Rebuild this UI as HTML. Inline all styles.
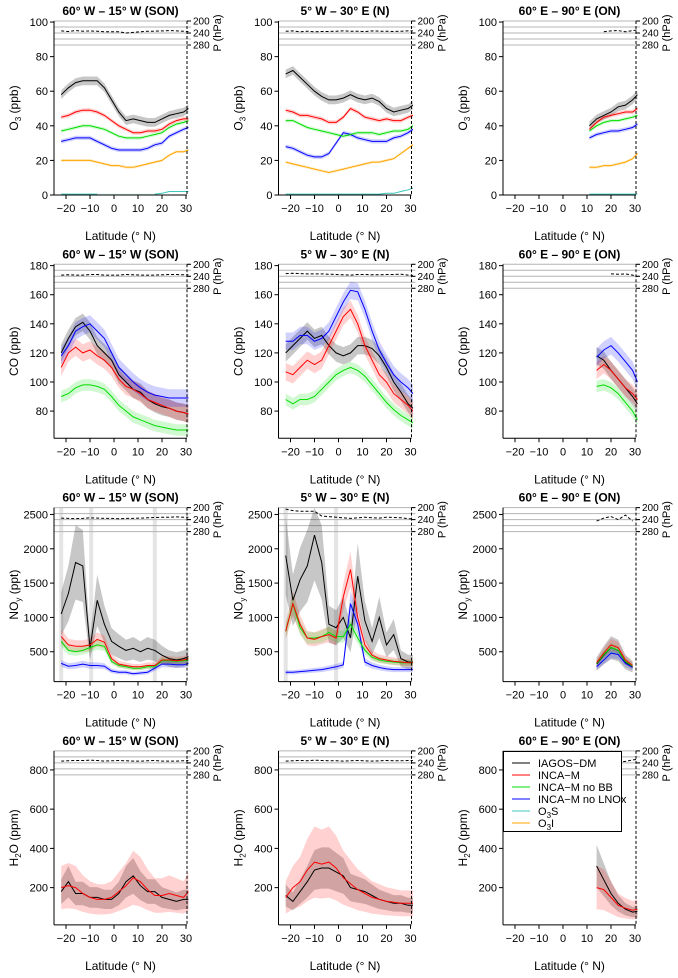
<!DOCTYPE html>
<html><head><meta charset="utf-8"><style>
body{margin:0;background:#fff;}
svg{display:block;font-family:"Liberation Sans",Arial,sans-serif;}
</style></head><body>
<svg id="c" width="678" height="978" viewBox="0 0 678 978"></svg>
<script>
// ---- data ----
const latsFull = [-22,-19,-16,-13,-10,-7,-4,-1,2,5,8,11,14,17,20,23,26,29,31];
const latsEast = [11,14,17,20,23,26,29,31];
const titles = ["60° W – 15° W (SON)","5° W – 30° E (N)","60° E – 90° E (ON)"];
const o3Ticks = [0,20,40,60,80,100];
const coTicks = [80,100,120,140,160,180];
const noyTicks = [500,1000,1500,2000,2500];
const h2oTicks = [200,400,600,800];
const latTicks = [-20,-10,0,10,20,30];
const pTicks = [200,240,280];

// O3 panels
const o3W_black=[58,62,65,66,66,66,62,55,48,43,44,43,42,42,44,46,47,48,50];
const o3W_red=[45,46,48,49,49,48,46,43,40,38,36,36,37,37,38,41,43,44,44];
const o3W_green=[37,38,39,40,40,39,38,36,34,33,33,33,34,35,36,39,41,42,43];
const o3W_blue=[31,32,33,33,33,31,29,27,26,26,26,26,27,29,30,34,36,38,39];
const o3W_orange=[20,20,20,20,20,19,18,17,17,16,16,17,18,19,20,23,25,25,26];
const o3W_cyan=[0.5,0.5,0.5,0.5,0.5,0.5,null,null,null,null,null,null,null,0.5,1,2,2,2,2];
const o3W_p=[233,235,232,234,233,234,236,236,236,240,238,236,234,234,233,232,233,234,235];

const o3N_black=[70,72,68,64,60,57,55,55,56,58,56,55,56,54,50,48,49,50,52];
const o3N_red=[49,48,46,46,45,44,42,42,45,50,48,45,44,43,44,43,43,45,46];
const o3N_green=[43,43,41,39,38,37,36,35,34,35,36,36,36,35,36,37,37,38,40];
const o3N_blue=[28,27,25,23,22,22,24,30,36,35,33,32,31,31,31,33,34,36,38];
const o3N_orange=[19,18,17,16,15,14,13,14,15,16,17,18,19,19,20,21,24,27,29];
const o3N_cyan=[0.5,0.5,0.5,0.5,0.5,0.5,0.5,0.5,0.5,0.5,0.5,0.5,0.5,0.5,1,1,2,3,4];
const o3N_p=[234,233,236,234,236,235,235,234,233,234,234,235,233,234,234,235,234,233,233];

const o3E_black=[40,44,46,48,51,52,55,58];
const o3E_red=[38,42,45,46,47,48,48,50];
const o3E_green=[37,40,42,43,43,44,45,46];
const o3E_blue=[33,35,36,37,37,38,39,41];
const o3E_orange=[16,16,17,17,18,19,21,24];
const o3E_cyan=[0.5,0.5,0.5,0.5,0.5,0.5,0.5,0.5];
const o3E_p=[null,null,236,233,232,236,232,230];

// CO panels
const coW_black=[120,130,138,141,135,125,120,115,105,100,95,93,88,85,83,82,80,79,78];
const coW_red=[110,120,124,120,122,118,115,110,102,97,95,92,88,86,84,82,80,79,78];
const coW_green=[90,92,96,98,98,97,95,90,84,80,76,74,72,70,69,68,67,67,67];
const coW_blue=[118,125,135,138,140,135,130,120,110,105,100,96,93,91,90,89,89,89,89];
const coW_p=[236,235,236,236,234,234,236,236,236,234,235,236,236,236,235,234,234,235,235];

const coN_black=[120,125,130,135,130,132,125,120,118,120,125,125,123,118,110,100,93,85,82];
const coN_red=[107,105,110,115,112,115,125,135,145,150,140,125,115,105,100,92,88,84,80];
const coN_green=[88,85,88,88,90,95,100,105,108,110,108,104,98,92,86,81,77,74,72];
const coN_blue=[128,128,132,132,128,130,135,145,155,163,162,150,135,122,113,105,100,96,92];
const coN_p=[231,230,231,232,232,232,233,234,235,236,234,234,235,235,234,234,233,236,237];

const coE_black=[null,118,115,108,102,96,90,85];
const coE_red=[null,108,112,108,102,96,92,88];
const coE_green=[null,97,98,96,92,86,80,74];
const coE_blue=[null,117,122,125,120,114,108,100];
const coE_p=[null,null,null,232,233,232,236,240];

// NOy panels
const noyW_black=[1050,1350,1800,1750,550,1250,900,650,580,520,550,500,550,520,450,400,380,400,430];
const noyW_red=[720,600,580,580,600,680,640,400,320,300,280,280,300,300,380,380,370,380,400];
const noyW_green=[650,520,500,520,560,600,580,360,300,280,260,260,280,280,370,370,360,370,380];
const noyW_blue=[330,290,300,320,300,300,290,220,200,200,180,190,200,260,320,320,310,310,330];
const noyW_p=[235,236,237,236,234,235,236,236,237,236,236,235,234,233,232,232,231,232,232];
const noyW_gaps=[-22,-9.5,17];

const noyN_black=[1900,1250,1550,1750,2200,1800,900,850,1000,700,1600,950,650,1000,600,750,400,350,350];
const noyN_red=[800,1200,900,700,680,720,750,700,1300,1700,1000,600,450,400,380,360,350,340,340];
const noyN_green=[800,1200,850,700,700,720,780,720,720,900,700,520,420,380,360,350,340,340,340];
const noyN_blue=[200,200,210,220,230,240,260,280,310,1200,900,350,300,270,250,240,240,240,240];
const noyN_p=[205,210,212,212,212,228,230,232,234,236,234,232,234,235,232,233,234,237,238];
const noyN_gaps=[-22,-1];

const noyE_black=[null,320,450,560,520,350,280,null];
const noyE_red=[null,340,480,600,560,380,300,null];
const noyE_green=[null,330,460,560,520,360,290,null];
const noyE_blue=[null,280,380,480,460,330,270,null];
const noyE_p=[null,245,235,230,240,225,245,null];

// H2O panels
const h2oW_black=[180,230,170,170,150,150,140,140,170,230,260,210,180,180,150,140,130,140,140];
const h2oW_red=[200,210,200,170,150,140,140,150,180,210,250,230,190,160,160,170,160,150,180];
const h2oW_p=[234,233,232,232,231,232,234,233,232,233,234,234,233,232,234,234,234,233,232];

const h2oN_black=[160,130,180,230,290,300,300,280,260,200,190,180,160,140,130,120,120,110,110];
const h2oN_red=[150,200,230,290,330,320,330,300,250,220,190,170,150,140,130,125,120,120,120];
const h2oN_p=[234,233,232,233,231,232,233,233,234,233,232,233,234,233,232,233,233,232,232];

const h2oE_black=[null,310,240,170,120,90,75,80];
const h2oE_red=[null,200,190,150,110,95,85,90];
const h2oE_p=[null,null,null,null,238,235,230,228];

// ---- drawing ----
const svg=document.getElementById('c');
const NS='http://www.w3.org/2000/svg';
function mk(tag,attrs,parent){const e=document.createElementNS(NS,tag);for(const k in attrs)e.setAttribute(k,attrs[k]);(parent||svg).appendChild(e);return e;}

const COL={black:'#000',red:'#ff0000',green:'#00dd00',blue:'#0000ff',orange:'#ffa500',cyan:'#40c8c0'};
const BAND={black:'rgba(0,0,0,0.22)',red:'rgba(255,0,0,0.18)',green:'rgba(0,220,0,0.18)',blue:'rgba(0,0,255,0.18)',orange:'rgba(255,165,0,0.2)',cyan:'rgba(64,200,192,0.2)'};

const rows=[
 {dom:[0,100.6],ticks:o3Ticks,label:'O3',unit:'(ppb)',spread:{black:2.5,red:1.2,green:1,blue:1.2,orange:0.8,cyan:0.3},
  panels:[{lats:latsFull,s:{black:o3W_black,red:o3W_red,green:o3W_green,blue:o3W_blue,orange:o3W_orange,cyan:o3W_cyan},p:o3W_p},
          {lats:latsFull,s:{black:o3N_black,red:o3N_red,green:o3N_green,blue:o3N_blue,orange:o3N_orange,cyan:o3N_cyan},p:o3N_p},
          {lats:latsEast,s:{black:o3E_black,red:o3E_red,green:o3E_green,blue:o3E_blue,orange:o3E_orange,cyan:o3E_cyan},p:o3E_p}]},
 {dom:[61.3,180.9],ticks:coTicks,label:'CO',unit:'(ppb)',spread:{black:6,red:6,green:4,blue:6},
  panels:[{lats:latsFull,s:{black:coW_black,red:coW_red,green:coW_green,blue:coW_blue},p:coW_p},
          {lats:latsFull,s:{black:coN_black,red:coN_red,green:coN_green,blue:coN_blue},p:coN_p},
          {lats:latsEast,s:{black:coE_black,red:coE_red,green:coE_green,blue:coE_blue},p:coE_p}]},
 {dom:[65,2600],ticks:noyTicks,label:'NOy',unit:'(ppt)',spread:{black:0.3,red:0.15,green:0.12,blue:0.15},rel:true,
  panels:[{lats:latsFull,s:{black:noyW_black,red:noyW_red,green:noyW_green,blue:noyW_blue},p:noyW_p,gaps:noyW_gaps},
          {lats:latsFull,s:{black:noyN_black,red:noyN_red,green:noyN_green,blue:noyN_blue},p:noyN_p,gaps:noyN_gaps},
          {lats:latsEast,s:{black:noyE_black,red:noyE_red,green:noyE_green,blue:noyE_blue},p:noyE_p}]},
 {dom:[10,897],ticks:h2oTicks,label:'H2O',unit:'(ppm)',spread:{black:0.35,red:0.55},rel:true,
  panels:[{lats:latsFull,s:{black:h2oW_black,red:h2oW_red},p:h2oW_p},
          {lats:latsFull,s:{black:h2oN_black,red:h2oN_red},p:h2oN_p},
          {lats:latsEast,s:{black:h2oE_black,red:h2oE_red},p:h2oE_p}]}
];

const PW=133, PH=174;
function yLabel(g,lab,unit,x,y){
  const t=mk('text',{x:x,y:y,'font-size':12,'text-anchor':'middle',transform:`rotate(-90 ${x} ${y})`},g);
  const sub={O3:['O','3',''],CO:['CO','',''],NOy:['NO','y',''],H2O:['H','2','O']}[lab];
  const a=document.createElementNS(NS,'tspan');a.textContent=sub[0];t.appendChild(a);
  if(sub[1]){const b=document.createElementNS(NS,'tspan');b.setAttribute('font-size',8);b.setAttribute('dy',3);b.textContent=sub[1];t.appendChild(b);}
  const c=document.createElementNS(NS,'tspan');if(sub[1])c.setAttribute('dy',-3);c.textContent=sub[2]+' '+unit;t.appendChild(c);
}

rows.forEach((row,ri)=>{
  row.panels.forEach((pn,ci)=>{
    const L=54+ci*224.5, T=21+ri*243.3, R=L+PW, B=T+PH;
    const g=mk('g',{});
    
    
    const X=lat=>L+(lat+25)*2.4;
    const Y=v=>B-(v-row.dom[0])/(row.dom[1]-row.dom[0])*PH;
    const P=p=>T+(p-200)*0.3;
    // gaps
    (pn.gaps||[]).forEach(gl=>{const r=mk('rect',{x:X(gl)-2,y:T,width:4,height:PH,fill:'#e4e4e4'},g);});
    // pressure grid
    [200,220,240,260,280].forEach(p=>{mk('line',{x1:L,x2:R+4,y1:P(p),y2:P(p),stroke:'#b4b4b4','stroke-width':1},g);});
    // bands & lines
    const order=['black','orange','cyan','blue','green','red'];
    const bandOrder=['black','red','green','blue','orange','cyan'];
    bandOrder.forEach(k=>{
      const v=pn.s[k]; if(!v) return;
      const sp=row.spread[k]||0;
      const up=[],dn=[];
      v.forEach((d,i)=>{if(d==null)return;const w=row.rel?d*sp:sp;up.push([X(pn.lats[i]),Y(Math.min(d+w,row.dom[1]))]);dn.push([X(pn.lats[i]),Y(Math.max(d-w,row.dom[0]))]);});
      if(up.length<2)return;
      const pts=up.concat(dn.reverse()).map(p=>p[0].toFixed(1)+','+p[1].toFixed(1)).join(' ');
      const b=mk('polygon',{points:pts,fill:BAND[k],stroke:'none'},g);
      
      
    });
    order.forEach(k=>{
      const v=pn.s[k]; if(!v) return;
      let d='',pen=false;
      v.forEach((val,i)=>{if(val==null){pen=false;return;}d+=(pen?'L':'M')+X(pn.lats[i]).toFixed(1)+','+Y(val).toFixed(1);pen=true;});
      const l=mk('path',{d:d,fill:'none',stroke:COL[k],'stroke-width':1},g);
      
      
    });
    // pressure dashed
    {let d='',pen=false;pn.p.forEach((val,i)=>{if(val==null){pen=false;return;}d+=(pen?'L':'M')+X(pn.lats[i]).toFixed(1)+','+P(val).toFixed(1);pen=true;});
     const l=mk('path',{d:d,fill:'none',stroke:'#000','stroke-width':1,'stroke-dasharray':'3,2'},g);
     
     }
    // axes
    mk('line',{x1:L,x2:L,y1:T,y2:B,stroke:'#000','stroke-width':1},g);
    mk('line',{x1:L,x2:R,y1:B,y2:B,stroke:'#000','stroke-width':1},g);
    mk('line',{x1:R,x2:R,y1:T,y2:B,stroke:'#000','stroke-width':1,'stroke-dasharray':'3,2'},g);
    row.ticks.forEach(t=>{const y=Y(t);mk('line',{x1:L-4,x2:L,y1:y,y2:y,stroke:'#000'},g);
      const tx=mk('text',{x:L-6,y:y+4,'font-size':11,'text-anchor':'end'},g);tx.textContent=t;});
    latTicks.forEach(t=>{const x=X(t);mk('line',{x1:x,x2:x,y1:B,y2:B+4,stroke:'#000'},g);
      const tx=mk('text',{x:x,y:B+17,'font-size':11,'text-anchor':'middle'},g);tx.textContent=(t<0?'\u2212'+(-t):t);});
    pTicks.forEach(p=>{const y=P(p);mk('line',{x1:R,x2:R+4,y1:y,y2:y,stroke:'#000'},g);
      const tx=mk('text',{x:R+6,y:y+3.5,'font-size':10},g);tx.textContent=p;});
    const pl=mk('text',{x:R+34,y:T+12,'font-size':11,'text-anchor':'middle',transform:`rotate(-90 ${R+34} ${T+12})`},g);pl.textContent='P (hPa)';
    const tt=mk('text',{x:(L+R)/2,y:T-6,'font-size':12,'font-weight':'bold','text-anchor':'middle'},g);tt.textContent=titles[ci];
    
    
    const xt=mk('text',{x:(L+R)/2,y:B+45,'font-size':12,'text-anchor':'middle'},g);xt.textContent='Latitude (° N)';
    
    
    yLabel(g,row.label,row.unit,L-36,(T+B)/2);
  });
});

// legend
const leg=mk('g',{});


mk('rect',{x:503.5,y:751.5,width:118,height:80,fill:'#fff',stroke:'#000','stroke-width':1},leg);
const legNames=[['IAGOS\u2212DM','black'],['INCA\u2212M','red'],['INCA\u2212M no BB','green'],['INCA\u2212M no LNOx','blue'],['O|3|S','cyan'],['O|3|I','orange']];
legNames.forEach((e,i)=>{
  const y=763+i*12;
  const ln=mk('line',{x1:512,x2:530,y1:y,y2:y,stroke:COL[e[1]],'stroke-width':1},leg);
  
  
  const t=mk('text',{x:538,y:y+4,'font-size':11},leg);
  
  
  const parts=e[0].split('|');
  if(parts.length===1){t.textContent=parts[0];}
  else{const a=document.createElementNS(NS,'tspan');a.textContent=parts[0];t.appendChild(a);
    const b=document.createElementNS(NS,'tspan');b.setAttribute('font-size',8);b.setAttribute('dy',3);b.textContent=parts[1];t.appendChild(b);
    const c=document.createElementNS(NS,'tspan');c.setAttribute('dy',-3);c.textContent=parts[2];t.appendChild(c);}
});
</script>
</body></html>
